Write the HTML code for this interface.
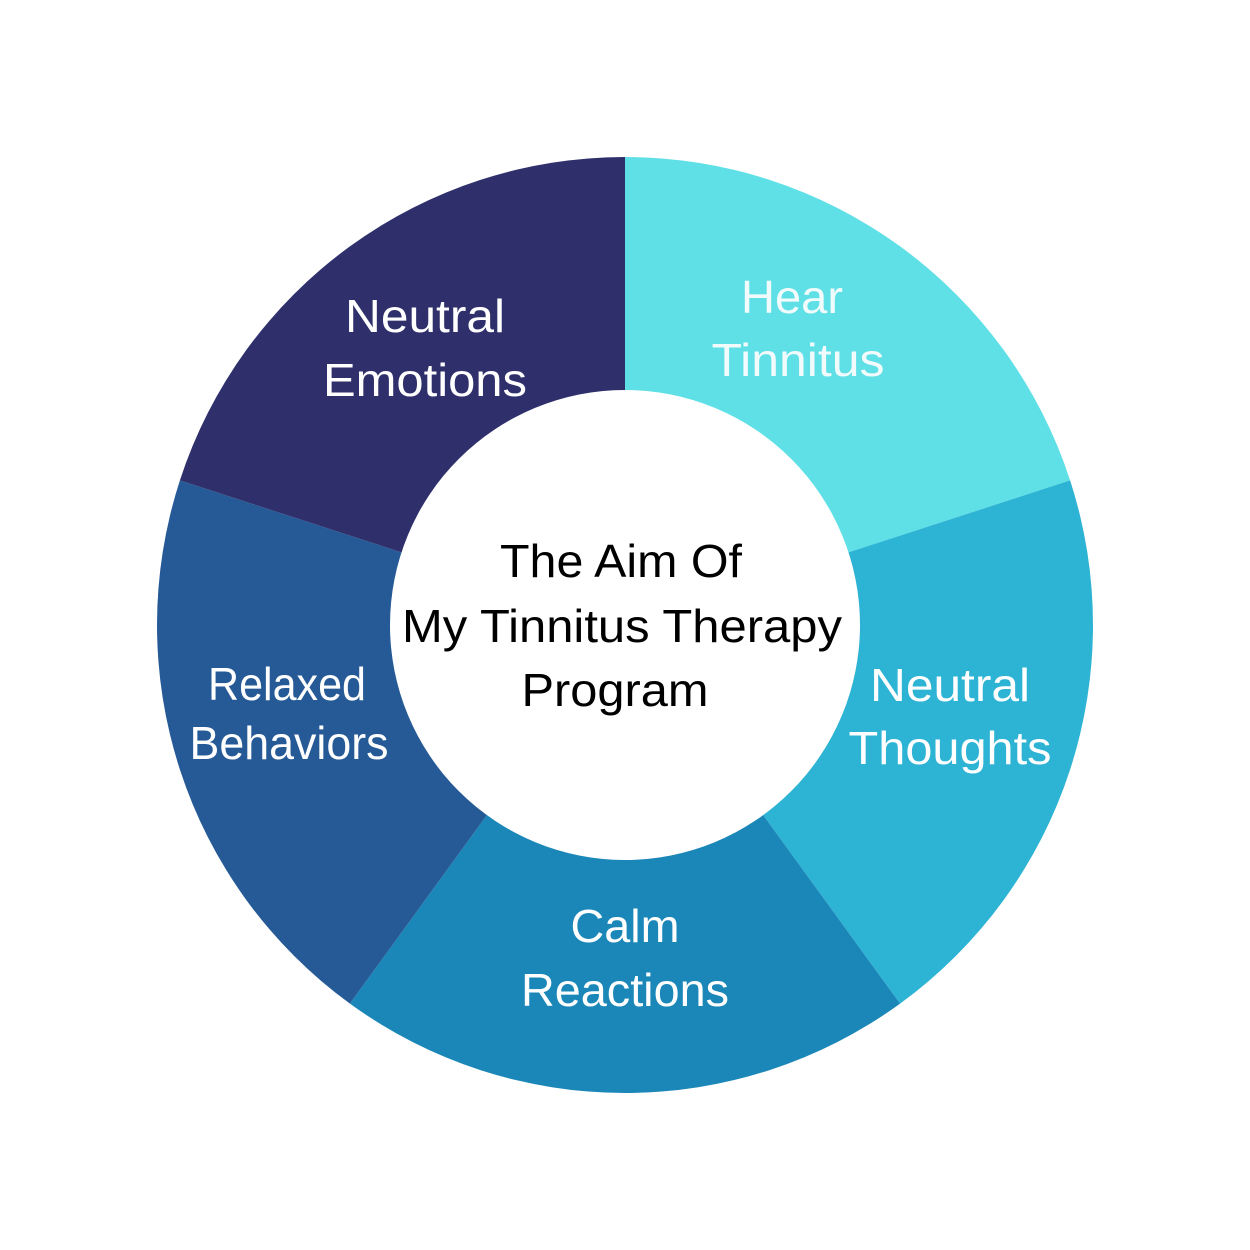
<!DOCTYPE html>
<html><head><meta charset="utf-8"><style>
html,body{margin:0;padding:0;background:#fff}
svg{display:block}
text{font-family:"Liberation Sans","DejaVu Sans",sans-serif;font-size:46px;text-anchor:middle;dominant-baseline:central}
</style></head><body>
<svg width="1250" height="1250" viewBox="0 0 1250 1250">
<rect width="1250" height="1250" fill="#fff"/>
<path d="M625,625 L625,157 A468,468 0 0 1 1070.1,480.4 Z" fill="#5ee0e6"/>
<path d="M625,625 L1070.1,480.4 A468,468 0 0 1 900.1,1003.6 Z" fill="#2db3d4"/>
<path d="M625,625 L900.1,1003.6 A468,468 0 0 1 349.9,1003.6 Z" fill="#1a87b8"/>
<path d="M625,625 L349.9,1003.6 A468,468 0 0 1 179.9,480.4 Z" fill="#265a96"/>
<path d="M625,625 L179.9,480.4 A468,468 0 0 1 625,157 Z" fill="#2e2f6b"/>
<circle cx="625" cy="625" r="235" fill="#fff"/>
<g fill="#fff" lengthAdjust="spacingAndGlyphs">
<text x="425" y="316" textLength="160" lengthAdjust="spacingAndGlyphs">Neutral</text><text x="425" y="380" textLength="204" lengthAdjust="spacingAndGlyphs">Emotions</text>
<text x="792" y="297" fill="#f2fbfc" textLength="102" lengthAdjust="spacingAndGlyphs">Hear</text><text x="798" y="360" fill="#f2fbfc" textLength="173" lengthAdjust="spacingAndGlyphs">Tinnitus</text>
<text x="950" y="685" textLength="160" lengthAdjust="spacingAndGlyphs">Neutral</text><text x="950" y="748" textLength="203" lengthAdjust="spacingAndGlyphs">Thoughts</text>
<text x="625" y="926" textLength="109" lengthAdjust="spacingAndGlyphs">Calm</text><text x="625" y="990" textLength="208" lengthAdjust="spacingAndGlyphs">Reactions</text>
<text x="287" y="684" textLength="158" lengthAdjust="spacingAndGlyphs">Relaxed</text><text x="289" y="743" textLength="199" lengthAdjust="spacingAndGlyphs">Behaviors</text>
</g>
<g fill="#000">
<text x="621" y="561" textLength="242" lengthAdjust="spacingAndGlyphs">The Aim Of</text>
<text x="622" y="626" textLength="440" lengthAdjust="spacingAndGlyphs">My Tinnitus Therapy</text>
<text x="615" y="690" textLength="187" lengthAdjust="spacingAndGlyphs">Program</text>
</g>
</svg>
</body></html>
